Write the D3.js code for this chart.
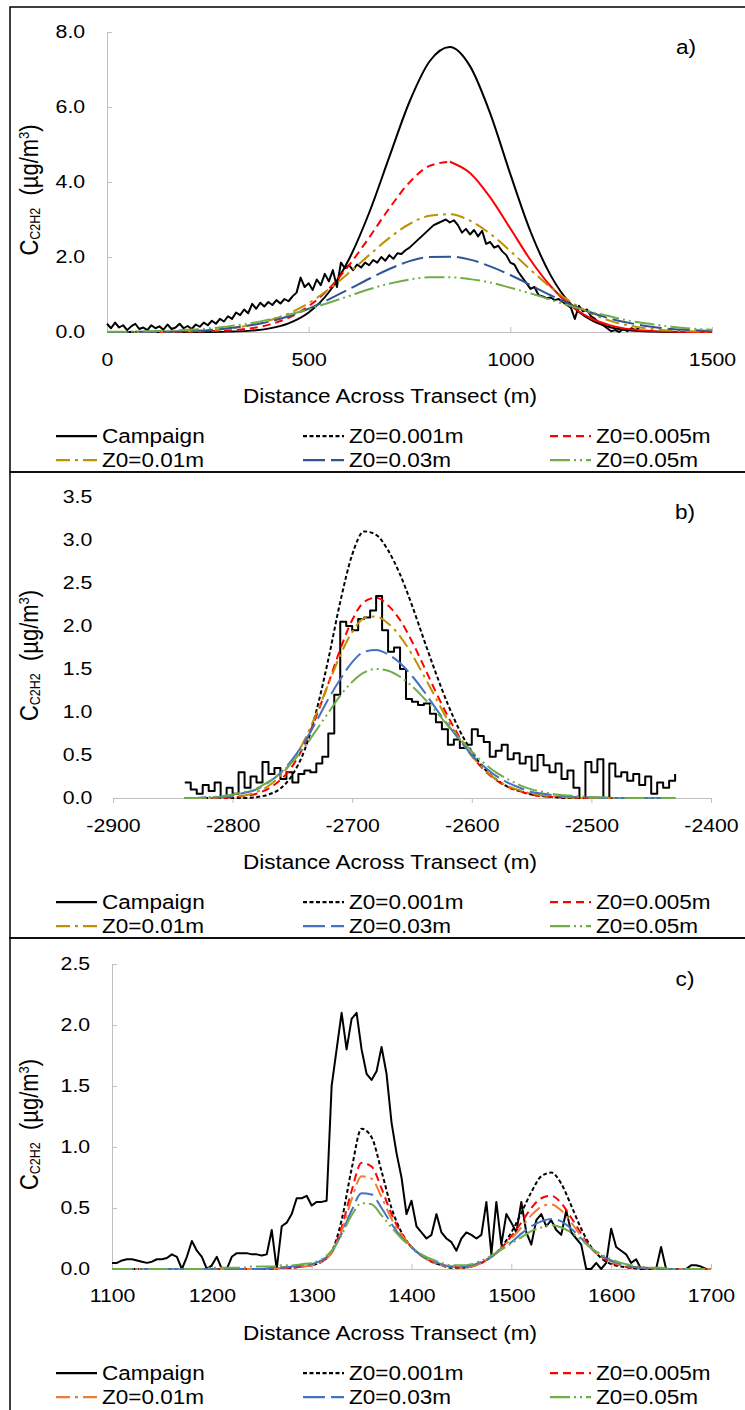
<!DOCTYPE html>
<html>
<head>
<meta charset="utf-8">
<script src="https://cdn.jsdelivr.net/npm/d3@7"></script>
<style>
  body { margin: 0; background: #fff; }
  svg { display: block; }
  text { font-family: "Liberation Sans", Arial, sans-serif; fill: #000; }
</style>
</head>
<body>
<svg id="chart" width="745" height="1410"></svg>
<script>
// ---- data ----
const seriesNames = ['Campaign', 'Z0=0.001m', 'Z0=0.005m', 'Z0=0.01m', 'Z0=0.03m', 'Z0=0.05m'];

// panel a
const aXTicks = [0, 500, 1000, 1500];
const aYTicks = [0, 2, 4, 6, 8];
const aModelX = d3.range(0, 1501, 50);
const aZ0001 = [0, 0, 0, 0, 0, 0, 0.01, 0.03, 0.09, 0.23, 0.52, 1.06, 1.94, 3.18, 4.67, 6.14, 7.22, 7.60, 7.09, 5.83, 4.21, 2.68, 1.51, 0.74, 0.32, 0.12, 0.04, 0.01, 0, 0, 0];
const aZ0005 = [0, 0, 0, 0, 0.01, 0.02, 0.04, 0.09, 0.19, 0.38, 0.69, 1.15, 1.78, 2.52, 3.30, 3.99, 4.43, 4.54, 4.24, 3.59, 2.76, 1.92, 1.22, 0.70, 0.36, 0.17, 0.07, 0.03, 0.01, 0, 0];
const aZ001 = [0, 0, 0, 0.01, 0.02, 0.04, 0.09, 0.17, 0.30, 0.49, 0.77, 1.14, 1.58, 2.05, 2.51, 2.88, 3.10, 3.14, 2.97, 2.62, 2.16, 1.66, 1.19, 0.80, 0.50, 0.29, 0.16, 0.08, 0.04, 0.02, 0.01];
const aZ003 = [0, 0, 0.01, 0.01, 0.03, 0.05, 0.10, 0.17, 0.27, 0.42, 0.62, 0.87, 1.14, 1.42, 1.68, 1.89, 2.00, 2.01, 1.93, 1.75, 1.52, 1.25, 0.98, 0.73, 0.52, 0.35, 0.23, 0.14, 0.08, 0.05, 0.02];
const aZ005 = [0.01, 0.01, 0.02, 0.03, 0.06, 0.09, 0.15, 0.22, 0.33, 0.46, 0.61, 0.78, 0.96, 1.14, 1.29, 1.40, 1.46, 1.46, 1.41, 1.32, 1.18, 1.03, 0.86, 0.69, 0.54, 0.41, 0.29, 0.21, 0.14, 0.09, 0.06];
const aCampaignX = d3.range(0, 1321, 10);
const aCampaign = [
  0.22, 0.10, 0.25, 0.12, 0.18, 0.05, 0.15, 0.22, 0.08, 0.12,
  0.05, 0.18, 0.10, 0.15, 0.06, 0.20, 0.08, 0.12, 0.22, 0.10,
  0.16, 0.08, 0.20, 0.14, 0.25, 0.18, 0.30, 0.22, 0.35, 0.28,
  0.42, 0.35, 0.52, 0.45, 0.60, 0.50, 0.75, 0.62, 0.78, 0.68,
  0.80, 0.72, 0.85, 0.76, 0.88, 0.82, 0.95, 1.05, 1.45, 1.20,
  1.30, 1.12, 1.40, 1.25, 1.55, 1.35, 1.65, 1.20, 1.85, 1.70,
  1.78, 1.65, 1.80, 1.72, 1.85, 1.78, 1.92, 1.85, 2.00, 1.90,
  2.05, 1.95, 2.10, 2.08, 2.18, 2.25, 2.35, 2.45, 2.55, 2.65,
  2.75, 2.85, 2.90, 2.95, 3.00, 2.92, 2.98, 2.85, 2.65, 2.75,
  2.60, 2.72, 2.55, 2.70, 2.35, 2.40, 2.25, 2.30, 2.15, 2.05,
  1.85, 1.80, 1.60, 1.45, 1.30, 1.15, 1.20, 0.98, 0.95, 0.90,
  0.92, 0.85, 0.88, 0.80, 0.72, 0.65, 0.35, 0.70, 0.55, 0.60,
  0.42, 0.35, 0.25, 0.18, 0.10, 0.02, 0.05, 0.00, 0.08, 0.02,
  0.10, 0.05, 0.12
];

// panel b
const bXTicks = [-2900, -2800, -2700, -2600, -2500, -2400];
const bYTicks = [0, 0.5, 1, 1.5, 2, 2.5, 3, 3.5];
const bModelX = d3.range(-2840, -2429, 10);
const bZ0001 = [0, 0, 0, 0, 0, 0, 0.01, 0.04, 0.11, 0.27, 0.55, 1.01, 1.61, 2.28, 2.83, 3.10, 3.06, 2.88, 2.60, 2.24, 1.84, 1.45, 1.09, 0.78, 0.54, 0.35, 0.22, 0.13, 0.08, 0.04, 0.02, 0.01, 0, 0, 0, 0, 0, 0, 0, 0, 0, 0];
const bZ0005 = [0, 0, 0, 0, 0.01, 0.02, 0.05, 0.11, 0.21, 0.37, 0.62, 0.95, 1.33, 1.73, 2.07, 2.28, 2.33, 2.24, 2.07, 1.82, 1.53, 1.23, 0.95, 0.70, 0.49, 0.33, 0.21, 0.13, 0.08, 0.04, 0.02, 0.01, 0.01, 0, 0, 0, 0, 0, 0, 0, 0, 0];
const bZ001 = [0, 0, 0, 0.01, 0.02, 0.03, 0.07, 0.14, 0.26, 0.43, 0.67, 0.98, 1.32, 1.66, 1.93, 2.09, 2.11, 2.03, 1.88, 1.67, 1.42, 1.16, 0.90, 0.68, 0.49, 0.34, 0.22, 0.14, 0.09, 0.05, 0.03, 0.02, 0.01, 0, 0, 0, 0, 0, 0, 0, 0, 0];
const bZ003 = [0, 0, 0.01, 0.01, 0.03, 0.06, 0.10, 0.18, 0.29, 0.45, 0.65, 0.89, 1.15, 1.38, 1.58, 1.70, 1.72, 1.67, 1.57, 1.42, 1.24, 1.04, 0.85, 0.67, 0.50, 0.37, 0.26, 0.18, 0.12, 0.07, 0.05, 0.03, 0.02, 0.01, 0.01, 0, 0, 0, 0, 0, 0, 0];
const bZ005 = [0, 0, 0.01, 0.02, 0.04, 0.07, 0.11, 0.19, 0.29, 0.42, 0.59, 0.79, 0.99, 1.19, 1.35, 1.46, 1.50, 1.48, 1.41, 1.30, 1.16, 1.01, 0.84, 0.69, 0.54, 0.41, 0.30, 0.22, 0.15, 0.10, 0.07, 0.04, 0.03, 0.02, 0.01, 0.01, 0, 0, 0, 0, 0, 0];
const bCampaignX = d3.range(-2840, -2429, 5);
const bCampaign = [
  0.18, 0.10, 0.05, 0.15, 0.08, 0.18, 0.02, 0.12, 0.05, 0.30,
  0.12, 0.25, 0.18, 0.42, 0.28, 0.35, 0.22, 0.30, 0.18, 0.28,
  0.32, 0.30, 0.40, 0.48, 0.75, 1.20, 2.05, 2.00, 1.95, 2.08,
  2.10, 2.18, 2.35, 1.95, 1.70, 1.75, 1.50, 1.15, 1.12, 1.08,
  1.10, 0.98, 0.88, 0.80, 0.62, 0.68, 0.58, 0.62, 0.80, 0.72,
  0.65, 0.48, 0.55, 0.62, 0.45, 0.52, 0.40, 0.48, 0.32, 0.50,
  0.38, 0.30, 0.40, 0.22, 0.32, 0.12, 0.00, 0.42, 0.30, 0.45,
  0.00, 0.40, 0.25, 0.30, 0.20, 0.28, 0.15, 0.25, 0.05, 0.18,
  0.12, 0.20, 0.28
];

// panel c
const cXTicks = [1100, 1200, 1300, 1400, 1500, 1600, 1700];
const cYTicks = [0, 0.5, 1, 1.5, 2, 2.5];
const cModelX = d3.range(1100, 1701, 10);
const cZ0001 = [0, 0, 0, 0, 0, 0, 0, 0, 0, 0, 0, 0, 0, 0, 0, 0, 0,
  0.01, 0.01, 0.02, 0.03, 0.06, 0.14, 0.40, 0.82, 1.15, 1.08, 0.80, 0.50, 0.30, 0.18, 0.11, 0.06, 0.03, 0.01, 0.01,
  0.02, 0.05, 0.10, 0.18, 0.30, 0.46, 0.63, 0.76, 0.79, 0.70, 0.52, 0.33, 0.18, 0.09, 0.04, 0.02, 0.01,
  0, 0, 0, 0, 0, 0, 0, 0];
const cZ0005 = [0, 0, 0, 0, 0, 0, 0, 0, 0, 0, 0, 0, 0, 0, 0, 0, 0,
  0.01, 0.01, 0.02, 0.03, 0.06, 0.14, 0.34, 0.64, 0.87, 0.84, 0.66, 0.45, 0.29, 0.18, 0.11, 0.06, 0.03, 0.02, 0.01,
  0.02, 0.05, 0.10, 0.17, 0.27, 0.38, 0.50, 0.58, 0.60, 0.54, 0.42, 0.29, 0.17, 0.10, 0.05, 0.03, 0.01, 0.01,
  0, 0, 0, 0, 0, 0, 0];
const cZ001 = [0, 0, 0, 0, 0, 0, 0, 0, 0, 0, 0, 0, 0, 0, 0, 0, 0,
  0.01, 0.02, 0.02, 0.03, 0.06, 0.13, 0.31, 0.57, 0.76, 0.74, 0.59, 0.41, 0.28, 0.18, 0.11, 0.06, 0.03, 0.02, 0.01,
  0.02, 0.05, 0.10, 0.17, 0.25, 0.34, 0.44, 0.51, 0.53, 0.48, 0.38, 0.27, 0.17, 0.10, 0.06, 0.03, 0.02, 0.01,
  0, 0, 0, 0, 0, 0, 0];
const cZ003 = [0, 0, 0, 0, 0, 0, 0, 0, 0, 0, 0, 0, 0, 0, 0, 0,
  0.01, 0.01, 0.02, 0.03, 0.04, 0.07, 0.14, 0.29, 0.48, 0.62, 0.61, 0.50, 0.37, 0.26, 0.18, 0.11, 0.07, 0.04, 0.02, 0.02,
  0.03, 0.06, 0.10, 0.16, 0.22, 0.29, 0.35, 0.39, 0.41, 0.39, 0.33, 0.25, 0.17, 0.11, 0.07, 0.04, 0.02, 0.01, 0.01,
  0, 0, 0, 0, 0, 0];
const cZ005 = [0, 0, 0, 0, 0, 0, 0, 0, 0, 0,
  0.01, 0.01, 0.01, 0.01, 0.02, 0.02, 0.02, 0.03, 0.03, 0.04, 0.05, 0.08, 0.15, 0.28, 0.44, 0.54, 0.53, 0.44, 0.34, 0.25,
  0.18, 0.12, 0.08, 0.05, 0.03, 0.03, 0.04, 0.07, 0.11, 0.16, 0.21, 0.26, 0.31, 0.34, 0.36, 0.34, 0.30, 0.24, 0.17, 0.12,
  0.08, 0.05, 0.03, 0.02, 0.01, 0.01,
  0, 0, 0, 0, 0];
const cCampaignX = d3.range(1100, 1696, 5);
const cCampaign = [
  0.05, 0.05, 0.07, 0.08, 0.08, 0.07, 0.06, 0.05, 0.06, 0.08,
  0.08, 0.09, 0.12, 0.10, 0.00, 0.10, 0.23, 0.15, 0.10, 0.00,
  0.03, 0.10, 0.00, 0.00, 0.10, 0.13, 0.13, 0.13, 0.12, 0.12,
  0.11, 0.12, 0.32, 0.00, 0.35, 0.38, 0.45, 0.58, 0.58, 0.60,
  0.52, 0.55, 0.55, 0.56, 1.50, 1.80, 2.10, 1.80, 2.05, 2.10,
  1.80, 1.60, 1.55, 1.62, 1.82, 1.60, 1.20, 0.95, 0.75, 0.45,
  0.56, 0.35, 0.30, 0.25, 0.28, 0.45, 0.30, 0.25, 0.22, 0.15,
  0.25, 0.30, 0.28, 0.25, 0.28, 0.55, 0.12, 0.55, 0.20, 0.45,
  0.38, 0.30, 0.55, 0.30, 0.20, 0.40, 0.45, 0.35, 0.40, 0.32,
  0.28, 0.48, 0.30, 0.25, 0.20, 0.00, 0.00, 0.05, 0.00, 0.05,
  0.33, 0.18, 0.15, 0.12, 0.05, 0.08, 0.00, 0.00, 0.00, 0.00,
  0.18, 0.00, 0.00, 0.00, 0.00, 0.00, 0.03, 0.03, 0.02, 0.00
];

// ---- styles ----
const SX = 1.15; // the source figure is stretched horizontally, text follows it
const aColors = ['#000000', '#000000', '#ff0000', '#bf9000', '#2f5597', '#70ad47'];
const bColors = ['#000000', '#000000', '#ff0000', '#bf9000', '#4472c4', '#70ad47'];
const cColors = ['#000000', '#000000', '#ff0000', '#ed7d31', '#4472c4', '#70ad47'];
const dashes = [null, '4,2.5', '8,5', '14,5,3,5', '22,6', '20,4,2,4,2,4'];

const panels = [
  { letter: 'a)', box: [7, 472], xDomain: [0, 1500], xRange: [107, 712], yDomain: [0, 8], yRange: [332, 32],
    xTicks: aXTicks, yTicks: aYTicks, yAxisLine: true, xTickDir: -5, xPad: 21, yPad: 19,
    modelX: aModelX, models: [aZ0001, aZ0005, aZ001, aZ003, aZ005],
    campX: aCampaignX, camp: aCampaign, campCurve: d3.curveLinear,
    colors: aColors, solidModels: [1], solidFrom: { k: 2, x: 850 } },
  { letter: 'b)', box: [472, 938], xDomain: [-2900, -2400], xRange: [113, 711], yDomain: [0, 3.5], yRange: [798, 497],
    xTicks: bXTicks, yTicks: bYTicks, yAxisLine: false, xTickDir: 5, xPad: 16, yPad: 18,
    modelX: bModelX, models: [bZ0001, bZ0005, bZ001, bZ003, bZ005],
    campX: bCampaignX, camp: bCampaign, campCurve: d3.curveStepAfter,
    colors: bColors, solidModels: [], solidFrom: null },
  { letter: 'c)', box: [938, 1500], xDomain: [1100, 1700], xRange: [112, 711], yDomain: [0, 2.5], yRange: [1269, 964],
    xTicks: cXTicks, yTicks: cYTicks, yAxisLine: true, xTickDir: -5, xPad: 20, yPad: 19,
    modelX: cModelX, models: [cZ0001, cZ0005, cZ001, cZ003, cZ005],
    campX: cCampaignX, camp: cCampaign, campCurve: d3.curveLinear,
    colors: cColors, solidModels: [], solidFrom: null }
];

const svg = d3.select('#chart');

function label(g, x, y, str, size, anchor) {
  return g.append('text')
    .attr('transform', `translate(${x},${y}) scale(${SX},1)`)
    .attr('text-anchor', anchor || 'start')
    .attr('dy', '0.36em')
    .attr('font-size', size)
    .text(str);
}

function drawPanel(p) {
  const x = d3.scaleLinear().domain(p.xDomain).range(p.xRange);
  const y = d3.scaleLinear().domain(p.yDomain).range(p.yRange);
  const g = svg.append('g');
  const y0 = p.yRange[0];

  g.append('rect')
    .attr('x', 10).attr('y', p.box[0])
    .attr('width', 800).attr('height', p.box[1] - p.box[0])
    .attr('fill', 'none').attr('stroke', '#000').attr('stroke-width', 1.5);

  // x axis
  const gx = g.append('g')
    .attr('transform', `translate(0,${y0})`)
    .call(d3.axisBottom(x).tickValues(p.xTicks).tickSizeInner(p.xTickDir).tickSizeOuter(0)
      .tickPadding(p.xPad).tickFormat(d => String(d)));
  gx.select('.domain').attr('stroke', '#bfbfbf');
  gx.selectAll('.tick line').attr('stroke', '#bfbfbf');
  gx.selectAll('.tick text').attr('font-size', 18.5).attr('font-family', '"Liberation Sans", Arial, sans-serif')
    .attr('fill', '#000').attr('transform', `scale(${SX},1)`);
  if (p.xTickDir < 0) gx.selectAll('.tick text').attr('y', p.xPad);

  // y axis
  const gy = g.append('g')
    .attr('transform', `translate(${p.xRange[0]},0)`)
    .call(d3.axisLeft(y).tickValues(p.yTicks).tickSizeInner(p.yAxisLine ? -5 : 0).tickSizeOuter(0)
      .tickPadding(p.yPad).tickFormat(d3.format('.1f')));
  gy.select('.domain').attr('stroke', p.yAxisLine ? '#bfbfbf' : 'none');
  gy.selectAll('.tick line').attr('stroke', p.yAxisLine ? '#bfbfbf' : 'none');
  gy.selectAll('.tick text').attr('font-size', 18.5).attr('font-family', '"Liberation Sans", Arial, sans-serif')
    .attr('fill', '#000').attr('x', -p.yPad).attr('transform', `scale(${SX},1)`);

  // campaign
  const campPts = p.campX.map((v, i) => ({ x: v, y: p.camp[i] }));
  g.append('path')
    .datum(campPts)
    .attr('fill', 'none')
    .attr('stroke', p.colors[0])
    .attr('stroke-width', 2)
    .attr('stroke-linejoin', 'round')
    .attr('d', d3.line().x(d => x(d.x)).y(d => y(d.y)).curve(p.campCurve));

  // model runs
  p.models.forEach((vals, i) => {
    const k = i + 1;
    const pts = p.modelX.map((v, j) => ({ x: v, y: vals[j] }));
    const dash = p.solidModels.includes(k) ? null : dashes[k];
    const line = d3.line().x(d => x(d.x)).y(d => y(d.y)).curve(d3.curveMonotoneX);
    if (p.solidFrom && p.solidFrom.k === k) {
      const cut = p.solidFrom.x;
      g.append('path').datum(pts.filter(d => d.x <= cut))
        .attr('fill', 'none').attr('stroke', p.colors[k]).attr('stroke-width', 2)
        .attr('stroke-dasharray', dash).attr('d', line);
      g.append('path').datum(pts.filter(d => d.x >= cut))
        .attr('fill', 'none').attr('stroke', p.colors[k]).attr('stroke-width', 2)
        .attr('d', line);
    } else {
      g.append('path').datum(pts)
        .attr('fill', 'none').attr('stroke', p.colors[k]).attr('stroke-width', 2)
        .attr('stroke-dasharray', dash).attr('d', line);
    }
  });

  // panel letter
  label(g, p.xRange[1] - 26, p.yRange[1] + 15, p.letter, 19.6, 'middle');

  // axis titles
  label(g, 390, y0 + 64, 'Distance Across Transect (m)', 19.6, 'middle');

  const yc = (p.yRange[0] + p.yRange[1]) / 2 + 8;
  const t = g.append('text')
    .attr('transform', `translate(38,${yc}) scale(${SX},1) rotate(-90)`)
    .attr('text-anchor', 'middle')
    .attr('font-size', 22);
  t.append('tspan').text('C');
  t.append('tspan').attr('font-size', 12.5).attr('dy', 2).text('C2H2');
  t.append('tspan').attr('dy', -2).text('\u00a0 (µg/m');
  t.append('tspan').attr('font-size', 13).attr('dy', -8).text('3');
  t.append('tspan').attr('dy', 8).text(')');

  // legend, two rows of three
  seriesNames.forEach((name, k) => {
    const col = k % 3, row = Math.floor(k / 3);
    const lx = 56 + col * 247;
    const ly = y0 + 104 + row * 24;
    const dash = k === 0 ? null : dashes[k];
    g.append('line')
      .attr('x1', lx).attr('x2', lx + 41).attr('y1', ly).attr('y2', ly)
      .attr('stroke', p.colors[k]).attr('stroke-width', 2.25)
      .attr('stroke-dasharray', dash);
    label(g, lx + 46, ly, name, 19.6, 'start');
  });
}

panels.forEach(drawPanel);
</script>
</body>
</html>
